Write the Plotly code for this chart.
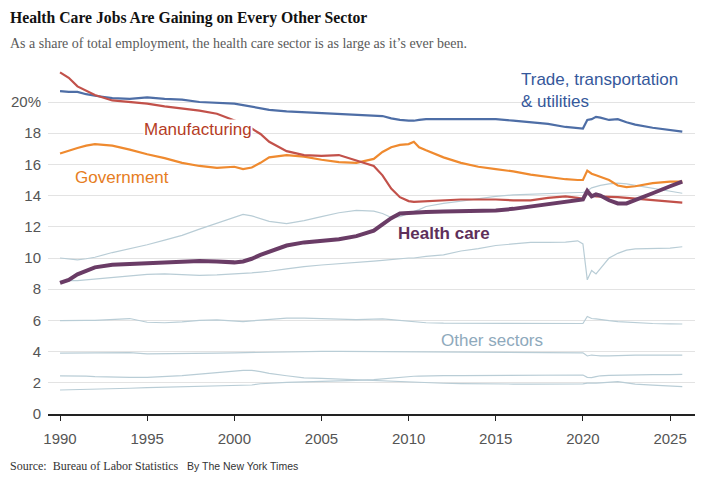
import plotly.graph_objects as go

# Decimal years of the sampled points
years = [1990, 1990.5, 1991, 1991.5, 1992, 1993, 1994, 1995, 1996, 1997, 1998, 1999,
         2000, 2000.5, 2001, 2001.5, 2002, 2003, 2004, 2005, 2006, 2007, 2008,
         2008.5, 2009, 2009.5, 2010, 2010.3, 2010.6, 2011, 2012, 2013, 2014, 2015,
         2016, 2017, 2018, 2019, 2019.7, 2020.0, 2020.25, 2020.5, 2020.75, 2021,
         2021.5, 2022, 2022.5, 2023, 2024, 2025, 2025.7]

# Share of total employment (%)
trade = [20.7, 20.65, 20.65, 20.5, 20.4, 20.25, 20.2, 20.3, 20.2, 20.15, 20.0, 19.95,
         19.9, 19.8, 19.7, 19.6, 19.5, 19.4, 19.35, 19.3, 19.25, 19.2, 19.15,
         19.1, 18.95, 18.85, 18.8, 18.8, 18.85, 18.9, 18.9, 18.9, 18.9, 18.9,
         18.8, 18.7, 18.6, 18.4, 18.3, 18.3, 18.85, 18.9, 19.05, 19.0,
         18.85, 18.9, 18.7, 18.55, 18.35, 18.2, 18.1]

manufacturing = [21.9, 21.55, 21.0, 20.7, 20.45, 20.1, 20.0, 19.9, 19.72, 19.58, 19.45, 19.25,
                 18.85, 18.6, 18.3, 17.95, 17.45, 16.85, 16.6, 16.55, 16.6, 16.25, 15.9,
                 15.3, 14.45, 13.9, 13.65, 13.6, 13.62, 13.65, 13.7, 13.75, 13.75, 13.75,
                 13.7, 13.7, 13.85, 13.95, 13.85, 13.8, 14.25, 14.02, 13.95, 13.95,
                 13.92, 13.9, 13.85, 13.8, 13.7, 13.6, 13.55]

government = [16.7, 16.9, 17.05, 17.2, 17.3, 17.2, 16.95, 16.65, 16.4, 16.1, 15.9, 15.78,
              15.85, 15.7, 15.8, 16.1, 16.45, 16.6, 16.5, 16.3, 16.15, 16.1, 16.35,
              16.8, 17.1, 17.25, 17.3, 17.45, 17.1, 16.9, 16.45, 16.1, 15.85, 15.7,
              15.55, 15.35, 15.2, 15.05, 15.0, 15.0, 15.6, 15.4, 15.3, 15.2,
              15.0, 14.65, 14.55, 14.6, 14.8, 14.9, 14.9]

health_care = [8.4, 8.6, 8.95, 9.2, 9.4, 9.57, 9.62, 9.65, 9.73, 9.78, 9.8, 9.78,
               9.72, 9.78, 9.95, 10.2, 10.4, 10.8, 11.0, 11.1, 11.2, 11.4, 11.75,
               12.15, 12.55, 12.85, 12.9, 12.92, 12.93, 12.95, 12.98, 13.0, 12.98, 13.05,
               13.15, 13.3, 13.4, 13.55, 13.7, 13.75, 14.3, 13.95, 14.08, 14.0,
               13.7, 13.5, 13.5, 13.7, 14.15, 14.6, 14.9]

# Other sectors
professional = [10.0, 9.95, 9.88, 9.95, 10.05, 10.35, 10.6, 10.85, 11.15, 11.45, 11.85, 12.25,
                12.65, 12.8, 12.7, 12.5, 12.35, 12.2, 12.4, 12.65, 12.9, 13.05, 13.0,
                12.85, 12.6, 12.65, 12.85, 12.95, 13.1, 13.3, 13.5, 13.65, 13.8, 13.95,
                14.05, 14.1, 14.15, 14.2, 14.2, 14.2, 14.3, 14.5, 14.6, 14.65,
                14.75, 14.8, 14.75, 14.65, 14.45, 14.25, 14.15]

leisure = [8.5, 8.55, 8.55, 8.6, 8.65, 8.75, 8.85, 8.95, 8.98, 8.95, 8.88, 8.92,
           8.97, 9.0, 9.05, 9.1, 9.15, 9.3, 9.45, 9.55, 9.62, 9.7, 9.8,
           9.85, 9.9, 9.97, 10.0, 10.0, 10.05, 10.1, 10.2, 10.45, 10.6, 10.8,
           10.9, 11.0, 11.0, 11.02, 11.1, 10.9, 8.6, 9.2, 8.98, 9.3,
           10.0, 10.3, 10.5, 10.58, 10.6, 10.63, 10.72]

financial = [5.98, 6.0, 6.02, 6.0, 6.0, 6.05, 6.12, 5.88, 5.85, 5.9, 6.0, 6.03,
             5.95, 5.92, 5.97, 6.02, 6.08, 6.15, 6.15, 6.12, 6.1, 6.05, 6.08,
             6.1, 6.05, 6.0, 5.95, 5.9, 5.9, 5.85, 5.82, 5.82, 5.78, 5.78,
             5.78, 5.8, 5.78, 5.78, 5.78, 5.8, 6.25, 6.12, 6.1, 6.05,
             5.98, 5.92, 5.88, 5.85, 5.8, 5.78, 5.77]

other_services = [3.9, 3.9, 3.9, 3.92, 3.93, 3.92, 3.93, 3.86, 3.86, 3.88, 3.9, 3.9,
                  3.92, 3.93, 3.95, 3.97, 3.99, 4.0, 4.01, 4.02, 4.02, 4.01, 4.0,
                  4.0, 4.02, 4.03, 4.02, 4.02, 4.01, 4.0, 3.99, 3.98, 3.98, 3.98,
                  3.97, 3.96, 3.95, 3.93, 3.93, 3.92, 3.72, 3.78, 3.75, 3.72,
                  3.73, 3.75, 3.76, 3.77, 3.77, 3.78, 3.78]

information = [2.44, 2.45, 2.45, 2.43, 2.4, 2.36, 2.35, 2.35, 2.4, 2.46, 2.55, 2.63,
               2.75, 2.8, 2.8, 2.72, 2.6, 2.45, 2.32, 2.28, 2.23, 2.2, 2.17,
               2.13, 2.1, 2.08, 2.05, 2.03, 2.02, 2.0, 1.97, 1.95, 1.93, 1.92,
               1.92, 1.92, 1.92, 1.92, 1.92, 1.93, 1.98, 1.97, 1.98, 2.0,
               2.04, 2.07, 2.0, 1.92, 1.85, 1.78, 1.75]

education = [1.54, 1.55, 1.56, 1.57, 1.58, 1.6, 1.65, 1.69, 1.72, 1.73, 1.76, 1.78,
             1.8, 1.82, 1.86, 1.94, 1.98, 2.03, 2.06, 2.08, 2.12, 2.16, 2.2,
             2.25, 2.32, 2.38, 2.4, 2.42, 2.43, 2.45, 2.46, 2.46, 2.46, 2.46,
             2.47, 2.48, 2.49, 2.5, 2.5, 2.5, 2.35, 2.33, 2.4, 2.45,
             2.48, 2.48, 2.5, 2.5, 2.52, 2.53, 2.54]

x_ticks = [1990, 1995, 2000, 2005, 2010, 2015, 2020, 2025]
y_ticks = [0, 2, 4, 6, 8, 10, 12, 14, 16, 18, 20]
y_tick_text = ["0", "2", "4", "6", "8", "10", "12", "14", "16", "18", "20%"]

SANS = "Liberation Sans, Arial, sans-serif"
SERIF = "Liberation Serif, Times New Roman, serif"

fig = go.Figure()

other_color = "#b9cdd6"
for s in [professional, leisure, financial, other_services, information, education]:
    fig.add_trace(go.Scatter(x=years, y=s, mode="lines",
                             line=dict(color=other_color, width=1.2), hoverinfo="skip"))

fig.add_trace(go.Scatter(x=years, y=trade, mode="lines", line=dict(color="#4e6ea6", width=2.2)))
fig.add_trace(go.Scatter(x=years, y=government, mode="lines", line=dict(color="#ef8a2f", width=2.2)))
fig.add_trace(go.Scatter(x=years, y=manufacturing, mode="lines", line=dict(color="#c2514a", width=2.2)))
fig.add_trace(go.Scatter(x=years, y=health_care, mode="lines", line=dict(color="#6a3c66", width=4)))

# page offset (default body margin) and plot area in window pixels
OFF = 8
L, R, T, B = 48, 695, 63, 414
W, H = 720 - 2 * OFF, 484 - 2 * OFF


def px(xp):
    return (xp - L) / (R - L)


def py(yp):
    return (B - yp) / (B - T)


def label(text, x, y, color, size=17, bold=False, family=SANS, bg=None):
    if bold:
        text = "<b>" + text + "</b>"
    fig.add_annotation(text=text, x=px(x), y=py(y), xref="paper", yref="paper",
                       xanchor="left", yanchor="middle", showarrow=False, align="left",
                       bgcolor=bg, borderpad=0,
                       font=dict(family=family, size=size, color=color))


label("Trade, transportation<br>& utilities", 520, 90.5, "#35589b")
label("Manufacturing", 143, 130, "#b53c25", bg="white")
label("Government", 74, 177, "#e67d22")
label("Health care", 397, 233, "#5e2f5a", bold=True)
label("Other sectors", 440, 340, "#8ea9bc")

# title, subtitle, source
label("Health Care Jobs Are Gaining on Every Other Sector", 9, 18, "#121212", size=15.7, bold=True, family=SERIF)
label("As a share of total employment, the health care sector is as large as it\u2019s ever been.",
      9, 43, "#5a5a5a", size=14, family=SERIF)
label("Source:  Bureau of Labor Statistics", 9, 466, "#333333", size=12, family=SERIF)
label("By The New York Times", 186, 466, "#333333", size=10.5, family=SANS)

fig.update_layout(
    width=W, height=H,
    margin=dict(l=L - OFF, r=W - (R - OFF), t=T - OFF, b=H - (B - OFF), pad=0),
    paper_bgcolor="white", plot_bgcolor="white",
    showlegend=False,
    xaxis=dict(range=[1989.31, 2026.43], tickvals=x_ticks, showgrid=False,
               showline=True, linecolor="#222", linewidth=1.5,
               ticks="outside", ticklen=5, tickcolor="#222", tickwidth=1.2,
               tickfont=dict(family=SANS, size=15, color="#555"),
               ticklabelstandoff=5, zeroline=False, fixedrange=True, automargin=False),
    yaxis=dict(range=[0, 22.5], tickvals=y_ticks, ticktext=y_tick_text,
               showgrid=True, gridcolor="#e3e3e3", gridwidth=1, zeroline=False,
               showline=False, ticks="", ticklabelstandoff=6,
               tickfont=dict(family=SANS, size=15, color="#555"), fixedrange=True,
               automargin=False),
)

fig.write_html("out.html")
